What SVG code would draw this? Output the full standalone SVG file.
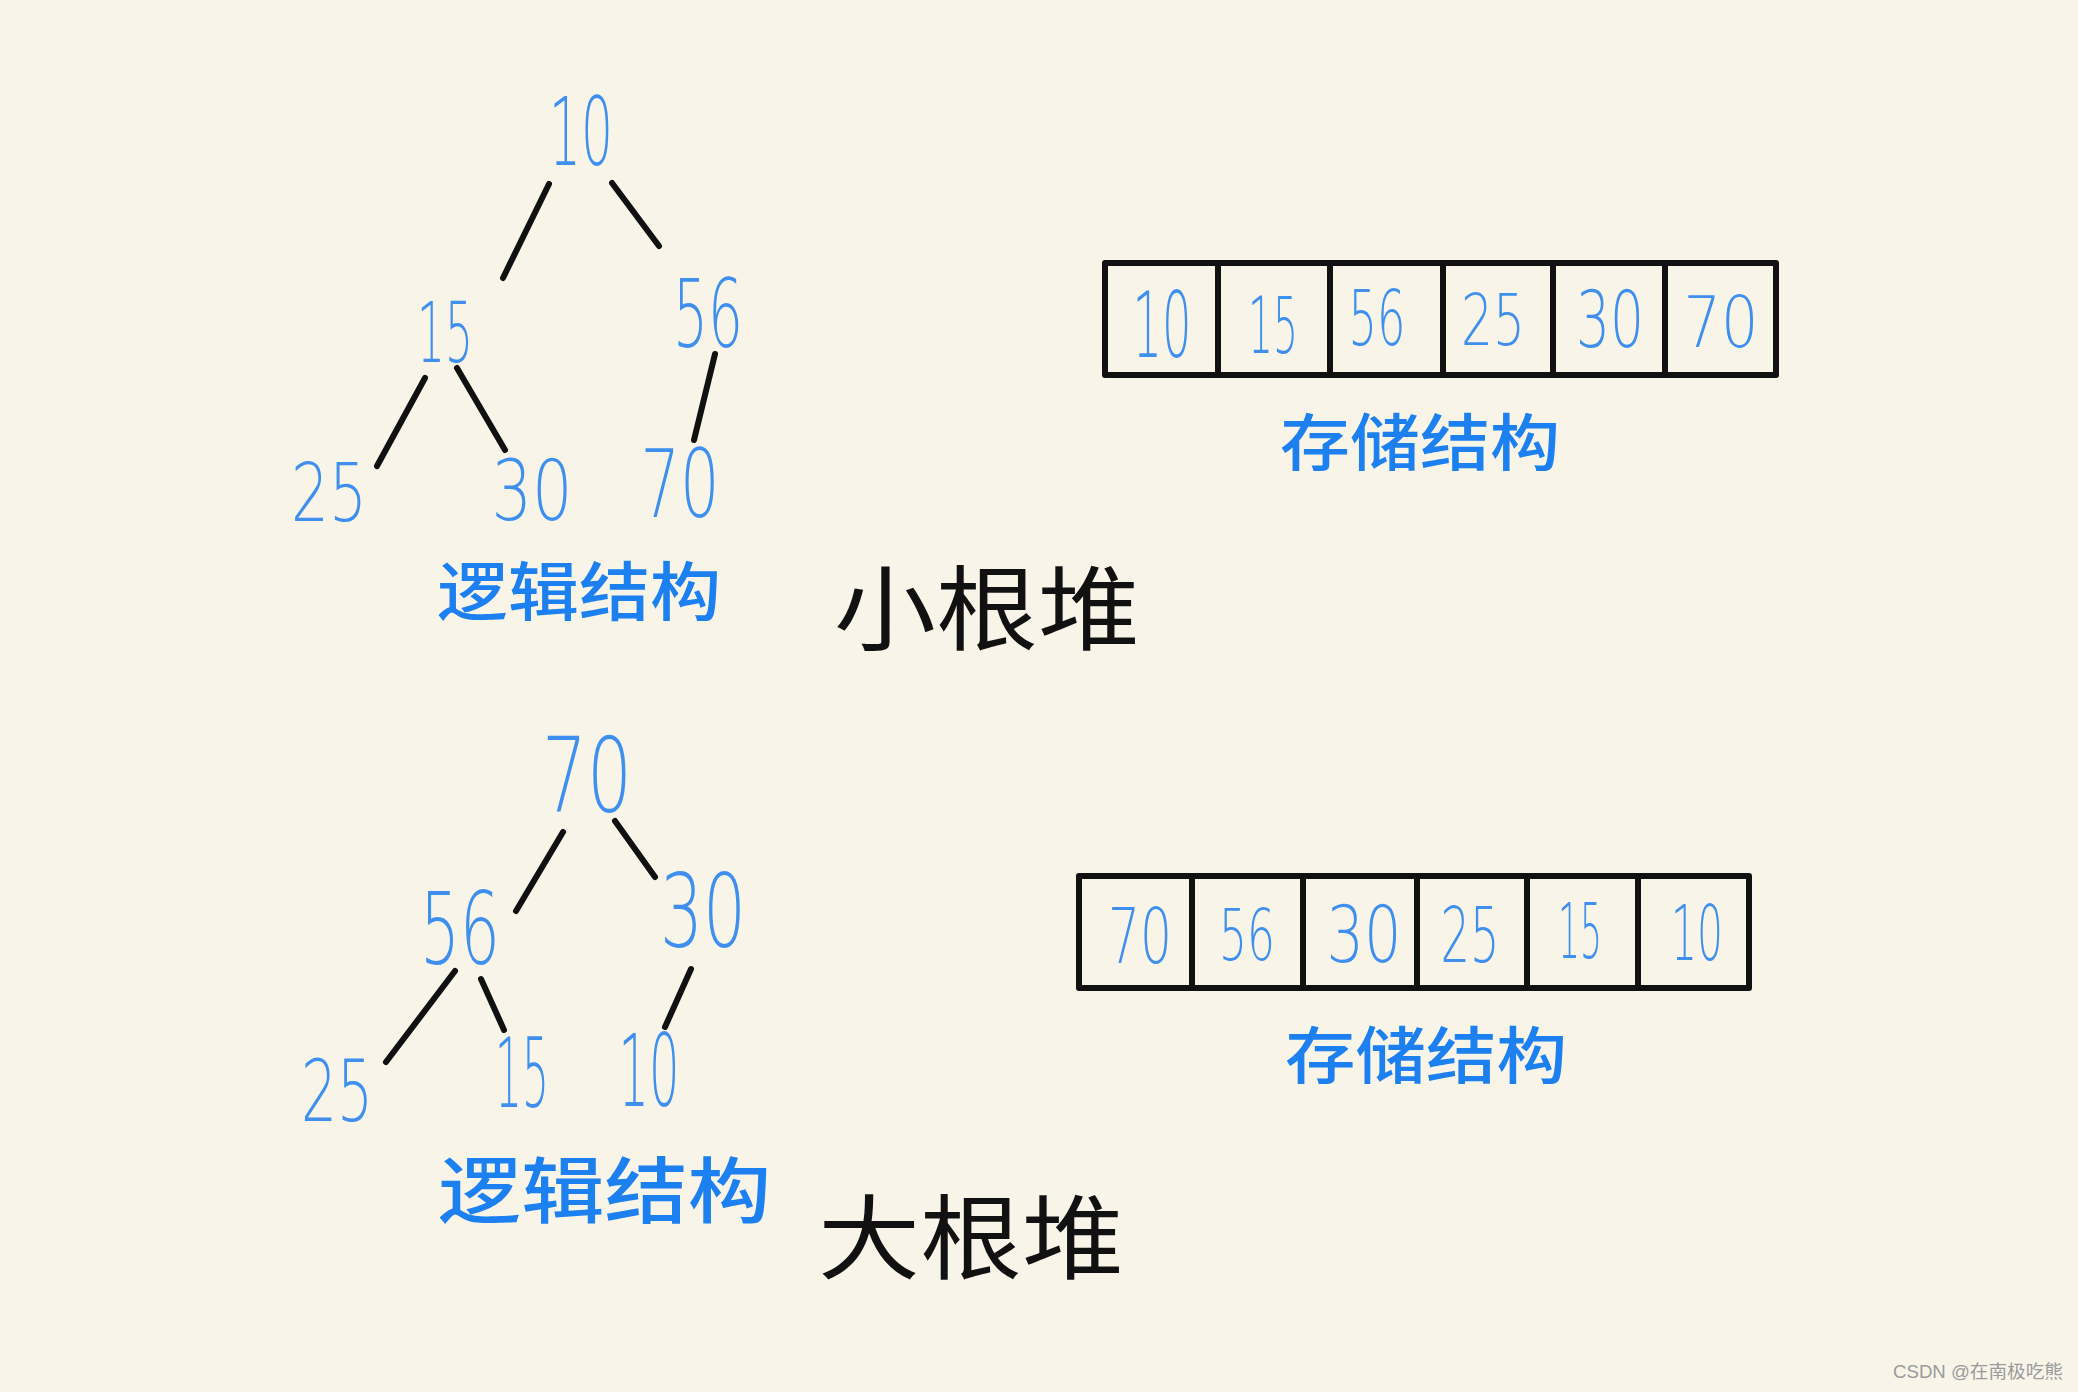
<svg xmlns="http://www.w3.org/2000/svg" width="2078" height="1392" viewBox="0 0 2078 1392">
<style>
.num{font-family:"DejaVu Sans","Liberation Sans",sans-serif;font-weight:200;fill:#3f90ee;text-anchor:middle}
.cn{font-family:"Noto Sans CJK SC",sans-serif;font-weight:500;fill:#1c80f0;dominant-baseline:central}
.title{font-family:"Noto Sans CJK SC",sans-serif;font-weight:400;fill:#111;dominant-baseline:central}
.edge{stroke:#111;stroke-width:6;stroke-linecap:round;fill:none}
.cell{stroke:#111;stroke-width:6;fill:none;stroke-linejoin:round}
.wm{font-family:"Liberation Sans","Noto Sans CJK SC",sans-serif;font-size:18px;fill:#9a9a9a}
</style>
<rect width="2078" height="1392" fill="#f8f5e8"/>

<g id="connectors">
  <line class="edge" x1="549" y1="184" x2="503" y2="278"/>
  <line class="edge" x1="612" y1="183" x2="659" y2="246"/>
  <line class="edge" x1="425" y1="378" x2="377" y2="466"/>
  <line class="edge" x1="457" y1="368" x2="505" y2="450"/>
  <line class="edge" x1="715" y1="354" x2="694" y2="440"/>
  <line class="edge" x1="563" y1="832" x2="516" y2="911"/>
  <line class="edge" x1="615" y1="821" x2="655" y2="877"/>
  <line class="edge" x1="455" y1="971" x2="386" y2="1062"/>
  <line class="edge" x1="481" y1="979" x2="504" y2="1030"/>
  <line class="edge" x1="691" y1="969" x2="665" y2="1027"/>
</g>

<g id="min-tree">
  <g id="min-n10"><text class="num" x="581" y="165" font-size="95" textLength="64" lengthAdjust="spacingAndGlyphs">10</text></g>
  <g id="min-n15"><text class="num" x="445" y="362" font-size="84" textLength="56" lengthAdjust="spacingAndGlyphs">15</text></g>
  <g id="min-n56"><text class="num" x="708" y="347" font-size="95" textLength="70" lengthAdjust="spacingAndGlyphs">56</text></g>
  <g id="min-n25"><text class="num" x="329" y="521" font-size="81" textLength="76" lengthAdjust="spacingAndGlyphs">25</text></g>
  <g id="min-n30"><text class="num" x="532" y="520" font-size="84" textLength="81" lengthAdjust="spacingAndGlyphs">30</text></g>
  <g id="min-n70"><text class="num" x="680" y="517" font-size="95" textLength="79" lengthAdjust="spacingAndGlyphs">70</text></g>
  <g id="min-logic-label"><text class="cn" x="437" y="587" font-size="64" textLength="284" lengthAdjust="spacingAndGlyphs">逻辑结构</text></g>
</g>

<g id="min-title"><text class="title" x="834" y="602" font-size="92" textLength="306" lengthAdjust="spacingAndGlyphs">小根堆</text></g>

<g id="min-array">
  <rect class="cell" x="1105" y="263" width="671" height="112"/>
  <line class="cell" x1="1218" y1="263" x2="1218" y2="375"/>
  <line class="cell" x1="1330" y1="263" x2="1330" y2="375"/>
  <line class="cell" x1="1443" y1="263" x2="1443" y2="375"/>
  <line class="cell" x1="1553" y1="263" x2="1553" y2="375"/>
  <line class="cell" x1="1665" y1="263" x2="1665" y2="375"/>
  <text class="num" x="1162" y="357" font-size="90" textLength="59" lengthAdjust="spacingAndGlyphs">10</text>
  <text class="num" x="1273" y="353" font-size="79" textLength="50" lengthAdjust="spacingAndGlyphs">15</text>
  <text class="num" x="1377" y="345" font-size="76" textLength="57" lengthAdjust="spacingAndGlyphs">56</text>
  <text class="num" x="1493" y="345" font-size="71" textLength="64" lengthAdjust="spacingAndGlyphs">25</text>
  <text class="num" x="1610" y="347" font-size="79" textLength="68" lengthAdjust="spacingAndGlyphs">30</text>
  <text class="num" x="1721" y="347" font-size="72" textLength="75" lengthAdjust="spacingAndGlyphs">70</text>
</g>
<g id="min-storage-label"><text class="cn" x="1280" y="439" font-size="62" textLength="280" lengthAdjust="spacingAndGlyphs">存储结构</text></g>

<g id="max-tree">
  <g id="max-n70"><text class="num" x="587" y="811" font-size="104" textLength="90" lengthAdjust="spacingAndGlyphs">70</text></g>
  <g id="max-n56"><text class="num" x="460" y="964" font-size="99" textLength="80" lengthAdjust="spacingAndGlyphs">56</text></g>
  <g id="max-n30"><text class="num" x="703" y="947" font-size="101" textLength="86" lengthAdjust="spacingAndGlyphs">30</text></g>
  <g id="max-n25"><text class="num" x="337" y="1121" font-size="86" textLength="72" lengthAdjust="spacingAndGlyphs">25</text></g>
  <g id="max-n15"><text class="num" x="522" y="1107" font-size="96" textLength="54" lengthAdjust="spacingAndGlyphs">15</text></g>
  <g id="max-n10"><text class="num" x="649" y="1106" font-size="100" textLength="61" lengthAdjust="spacingAndGlyphs">10</text></g>
  <g id="max-logic-label"><text class="cn" x="438" y="1185" font-size="72" textLength="333" lengthAdjust="spacingAndGlyphs">逻辑结构</text></g>
</g>

<g id="max-title"><text class="title" x="818" y="1231" font-size="92" textLength="306" lengthAdjust="spacingAndGlyphs">大根堆</text></g>

<g id="max-array">
  <rect class="cell" x="1079" y="876" width="670" height="112"/>
  <line class="cell" x1="1192" y1="876" x2="1192" y2="988"/>
  <line class="cell" x1="1303" y1="876" x2="1303" y2="988"/>
  <line class="cell" x1="1417" y1="876" x2="1417" y2="988"/>
  <line class="cell" x1="1527" y1="876" x2="1527" y2="988"/>
  <line class="cell" x1="1638" y1="876" x2="1638" y2="988"/>
  <text class="num" x="1140" y="963" font-size="77" textLength="64" lengthAdjust="spacingAndGlyphs">70</text>
  <text class="num" x="1247" y="960" font-size="72" textLength="56" lengthAdjust="spacingAndGlyphs">56</text>
  <text class="num" x="1364" y="962" font-size="79" textLength="75" lengthAdjust="spacingAndGlyphs">30</text>
  <text class="num" x="1470" y="962" font-size="76" textLength="59" lengthAdjust="spacingAndGlyphs">25</text>
  <text class="num" x="1580" y="958" font-size="76" textLength="44" lengthAdjust="spacingAndGlyphs">15</text>
  <text class="num" x="1697" y="960" font-size="76" textLength="52" lengthAdjust="spacingAndGlyphs">10</text>
</g>
<g id="max-storage-label"><text class="cn" x="1285" y="1052" font-size="62" textLength="282" lengthAdjust="spacingAndGlyphs">存储结构</text></g>

<text class="wm" x="1893" y="1378" textLength="170" lengthAdjust="spacingAndGlyphs">CSDN @在南极吃熊</text>
</svg>
